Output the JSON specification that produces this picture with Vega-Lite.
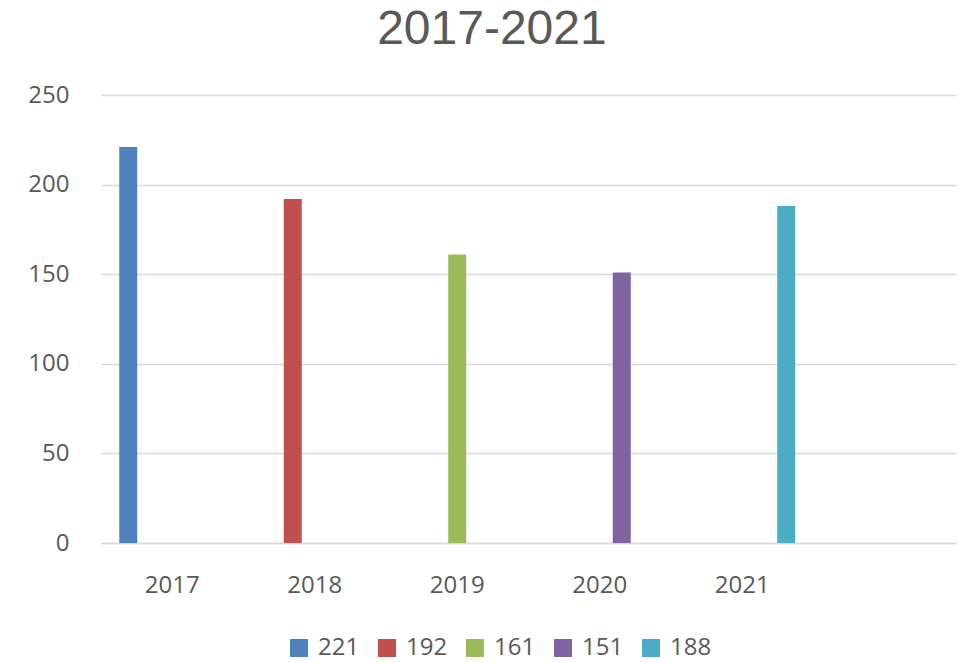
{
  "$schema": "https://vega.github.io/schema/vega-lite/v6.json",
  "width": 855,
  "height": 448,
  "autosize": {"type": "none"},
  "padding": {"left": 101, "top": 95, "right": 6, "bottom": 119},
  "background": "white",
  "title": {
    "text": "2017-2021",
    "font": "Liberation Sans",
    "fontSize": 48,
    "fontWeight": "normal",
    "color": "#595959",
    "anchor": "middle",
    "frame": "bounds",
    "offset": 29
  },
  "data": {
    "values": [
      {"year": "2017", "series": "221", "value": 221},
      {"year": "2018", "series": "192", "value": 192},
      {"year": "2019", "series": "161", "value": 161},
      {"year": "2020", "series": "151", "value": 151},
      {"year": "2021", "series": "188", "value": 188}
    ]
  },
  "mark": {"type": "bar"},
  "encoding": {
    "x": {
      "field": "year",
      "type": "nominal",
      "scale": {"domain": ["2017", "2018", "2019", "2020", "2021", ""], "paddingInner": 0, "paddingOuter": 0},
      "axis": {
        "title": null,
        "labelAngle": 0,
        "labelFont": "Open Sans",
        "labelFontSize": 24,
        "labelColor": "#595959",
        "labelPadding": 30,
        "ticks": false,
        "domain": true,
        "domainColor": "#d9d9d9",
        "domainWidth": 1.5,
        "grid": false
      }
    },
    "xOffset": {
      "field": "series",
      "type": "nominal",
      "scale": {"domain": ["221", "192", "161", "151", "188"], "paddingInner": 0.182, "paddingOuter": 0.83}
    },
    "y": {
      "field": "value",
      "type": "quantitative",
      "scale": {"domain": [0, 250], "nice": false},
      "axis": {
        "title": null,
        "values": [0, 50, 100, 150, 200, 250],
        "labelFont": "Open Sans",
        "labelFontSize": 24,
        "labelColor": "#595959",
        "labelPadding": 32,
        "ticks": false,
        "domain": false,
        "grid": true,
        "gridColor": "#d9d9d9",
        "gridWidth": 1.5
      }
    },
    "color": {
      "field": "series",
      "type": "nominal",
      "scale": {
        "domain": ["221", "192", "161", "151", "188"],
        "range": ["#4F81BD", "#C0504D", "#9BBB59", "#8064A2", "#4BACC6"]
      },
      "legend": {
        "title": null,
        "orient": "none",
        "direction": "horizontal",
        "legendX": 186,
        "legendY": 541,
        "symbolType": "square",
        "symbolSize": 324,
        "symbolStrokeWidth": 0,
        "symbolOpacity": 1,
        "labelFont": "Open Sans",
        "labelFontSize": 24,
        "labelColor": "#595959",
        "labelOffset": 7,
        "columnPadding": 15
      }
    }
  },
  "config": {
    "view": {"stroke": null}
  }
}
